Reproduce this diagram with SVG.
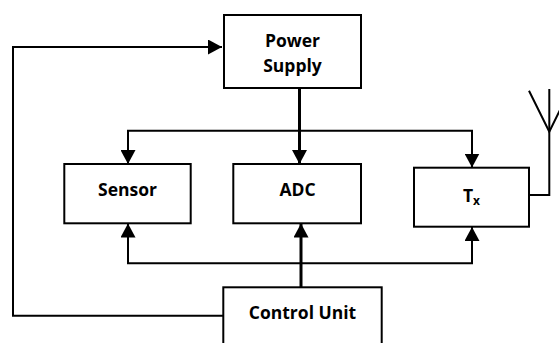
<svg xmlns="http://www.w3.org/2000/svg" width="559" height="343" viewBox="0 0 559 343">
<style>
.box{fill:#fff;stroke:#000;stroke-width:2}
.lbl{font-family:"Open Sans","Liberation Sans",sans-serif;font-weight:bold;font-size:17.5px;fill:#000;text-anchor:middle}
.c{fill:none;stroke:#000;stroke-width:2}
.t{stroke-width:3}
</style>
<defs>
<marker id="ah" markerUnits="userSpaceOnUse" markerWidth="15" markerHeight="15" refX="14" refY="7.5" orient="auto">
<path d="M0,0 L14,7.5 L0,15 z" fill="#000"/>
</marker>
</defs>
<rect width="559" height="343" fill="#fff"/>
<g id="connectors">
<path class="c" d="M223,315.7 H13 V47 H222" marker-end="url(#ah)"/>
<path class="c t" d="M299.5,88 V164" marker-end="url(#ah)"/>
<path class="c" d="M299.5,130.7 H128 V164" marker-end="url(#ah)"/>
<path class="c" d="M299.5,130.7 H472 V167.5" marker-end="url(#ah)"/>
<path class="c" d="M301,263.3 H128 V223.5" marker-end="url(#ah)"/>
<path class="c" d="M301,263.3 H472 V227" marker-end="url(#ah)"/>
<path class="c t" d="M301,287.3 V223.5" marker-end="url(#ah)"/>
<path class="c" d="M529,195 H549.3 V89"/>
<path class="c" d="M529,90.7 L549.3,131.7 L561,108"/>
</g>
<g id="power-supply">
<rect class="box" x="224" y="15" width="137" height="73"/>
<text class="lbl" x="292.5" y="46.7">Power</text>
<text class="lbl" x="292.5" y="71.7">Supply</text>
</g>
<g id="sensor">
<rect class="box" x="64.3" y="164" width="126.4" height="59.3"/>
<text class="lbl" x="127.5" y="196">Sensor</text>
</g>
<g id="adc">
<rect class="box" x="233.3" y="164" width="127.7" height="59.3"/>
<text class="lbl" x="297.5" y="196">ADC</text>
</g>
<g id="tx">
<rect class="box" x="414" y="167.7" width="115" height="59"/>
<text class="lbl" x="471.5" y="202.3">T<tspan font-size="12" dy="3">x</tspan></text>
</g>
<g id="control-unit">
<rect class="box" x="223.3" y="287.3" width="158.4" height="70"/>
<text class="lbl" x="302.5" y="319">Control Unit</text>
</g>
</svg>
